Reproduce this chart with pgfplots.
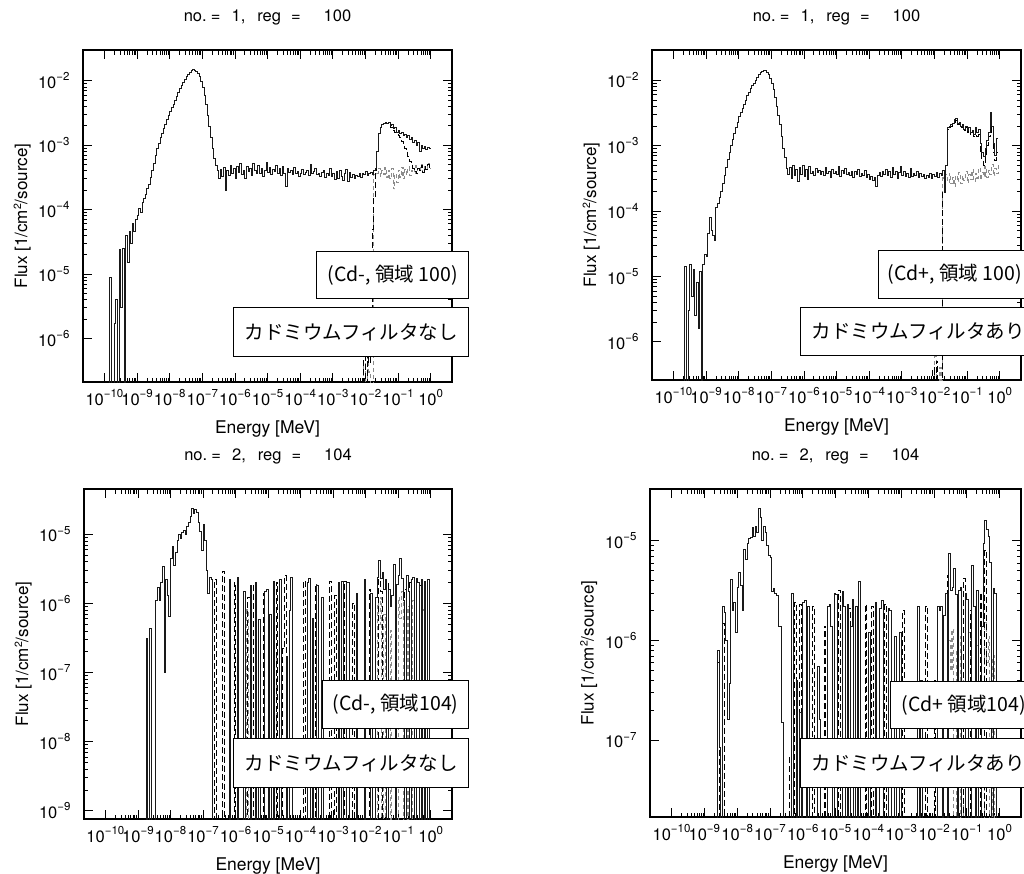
\documentclass[border=0pt]{standalone}
\usepackage{fontspec}
\setmainfont{TeX Gyre Heros}
\newfontfamily\jp{Noto Sans CJK JP}
\usepackage{pgfplots}
\usepackage{pgfplotstable}
\pgfplotsset{compat=1.18}

% tick label like 10^-3, set in the text font
\newcommand\p[1]{10\raisebox{7.5pt}{\fontsize{11.5}{11}\selectfont #1}}

% ---------- panel 1 : no.1 reg 100, Cd- ----------
\pgfplotstableread[row sep=\\]{le f\\
-10.00 1e-12\\ -9.85 9e-6\\ -9.80 1e-12\\ -9.70 1.7e-6\\ -9.65 4e-6\\ -9.60 1e-12\\ -9.55 2.4e-5\\ -9.50 3e-6\\
-9.45 2.5e-5\\ -9.40 1e-12\\ -9.35 4e-5\\ -9.30 1.5e-5\\ -9.25 4.5e-5\\ -9.20 3e-5\\ -9.15 6e-5\\ -9.10 4.5e-5\\
-9.05 7e-5\\ -9.00 8e-5\\ -8.95 1.05e-4\\ -8.90 9e-5\\ -8.85 1.3e-4\\ -8.80 1.5e-4\\ -8.75 1.7e-4\\ -8.70 2.1e-4\\
-8.65 2.5e-4\\ -8.60 3.2e-4\\ -8.55 4.0e-4\\ -8.50 5.3e-4\\ -8.45 7.0e-4\\ -8.40 8.8e-4\\ -8.35 1.05e-3\\ -8.30 1.3e-3\\
-8.25 1.5e-3\\ -8.20 1.8e-3\\ -8.15 2.1e-3\\ -8.10 2.5e-3\\ -8.05 2.9e-3\\ -8.00 3.3e-3\\ -7.95 3.8e-3\\ -7.90 4.3e-3\\
-7.85 5.0e-3\\ -7.80 5.7e-3\\ -7.75 6.5e-3\\ -7.70 7.5e-3\\ -7.65 8.5e-3\\ -7.60 9.5e-3\\ -7.55 1.05e-2\\ -7.50 1.16e-2\\
-7.45 1.27e-2\\ -7.40 1.37e-2\\ -7.35 1.45e-2\\ -7.30 1.48e-2\\ -7.25 1.46e-2\\ -7.20 1.40e-2\\ -7.15 1.30e-2\\ -7.10 1.16e-2\\
-7.05 9.8e-3\\ -7.00 7.8e-3\\ -6.95 6.0e-3\\ -6.90 4.3e-3\\ -6.85 2.9e-3\\ -6.80 1.95e-3\\ -6.75 1.3e-3\\ -6.70 8.8e-4\\
-6.65 6.3e-4\\ -6.60 4.8e-4\\ -6.55 4.0e-4\\ -6.50 3.0e-4\\ -6.45 4.2e-4\\ -6.40 3.3e-4\\ -6.35 4.5e-4\\ -6.30 2.0e-4\\
-6.25 4.0e-4\\ -6.20 3.4e-4\\ -6.15 4.8e-4\\ -6.10 3.6e-4\\ -6.05 4.4e-4\\ -6.00 3.1e-4\\ -5.95 4.6e-4\\ -5.90 3.8e-4\\
-5.85 5.2e-4\\ -5.80 3.5e-4\\ -5.75 4.1e-4\\ -5.70 3.0e-4\\ -5.65 4.7e-4\\ -5.60 3.9e-4\\ -5.55 4.3e-4\\ -5.50 3.4e-4\\
-5.45 5.3e-4\\ -5.40 4.0e-4\\ -5.35 3.6e-4\\ -5.30 4.9e-4\\ -5.25 3.7e-4\\ -5.20 4.4e-4\\ -5.15 3.3e-4\\ -5.10 4.1e-4\\
-5.05 5.4e-4\\ -5.00 3.8e-4\\ -4.95 4.5e-4\\ -4.90 3.5e-4\\ -4.85 4.2e-4\\ -4.80 3.9e-4\\ -4.75 4.8e-4\\ -4.70 3.6e-4\\
-4.65 4.3e-4\\ -4.60 3.4e-4\\ -4.55 4.6e-4\\ -4.50 3.7e-4\\ -4.45 2.3e-4\\ -4.40 4.4e-4\\ -4.35 3.8e-4\\ -4.30 4.1e-4\\
-4.25 3.5e-4\\ -4.20 4.5e-4\\ -4.15 3.6e-4\\ -4.10 3.9e-4\\ -4.05 3.3e-4\\ -4.00 3.7e-4\\ -3.95 4.2e-4\\ -3.90 3.5e-4\\
-3.85 3.8e-4\\ -3.80 4.0e-4\\ -3.75 3.4e-4\\ -3.70 5.0e-4\\ -3.65 3.6e-4\\ -3.60 3.9e-4\\ -3.55 4.3e-4\\ -3.50 3.5e-4\\
-3.45 3.7e-4\\ -3.40 3.3e-4\\ -3.35 3.8e-4\\ -3.30 4.1e-4\\ -3.25 3.2e-4\\ -3.20 3.6e-4\\ -3.15 3.4e-4\\ -3.10 4.4e-4\\
-3.05 3.3e-4\\ -3.00 3.6e-4\\ -2.95 2.9e-4\\ -2.90 3.9e-4\\ -2.85 3.1e-4\\ -2.80 4.0e-4\\ -2.75 3.3e-4\\ -2.70 2.8e-4\\
-2.65 3.7e-4\\ -2.60 4.2e-4\\ -2.55 2.7e-4\\ -2.50 3.8e-4\\ -2.45 3.2e-4\\ -2.40 3.5e-4\\ -2.35 3.0e-4\\ -2.30 3.4e-4\\
-2.25 3.3e-4\\ -2.20 3.6e-4\\ -2.15 3.2e-4\\ -2.10 3.7e-4\\ -2.05 3.5e-4\\ -2.00 3.9e-4\\ -1.95 3.4e-4\\ -1.90 3.6e-4\\
-1.85 3.8e-4\\ -1.80 3.5e-4\\ -1.75 4.0e-4\\ -1.70 4.4e-4\\ -1.65 8e-4\\ -1.60 1.5e-3\\ -1.55 1.9e-3\\ -1.50 2.1e-3\\
-1.45 2.2e-3\\ -1.40 2.25e-3\\ -1.35 2.2e-3\\ -1.30 2.25e-3\\ -1.25 2.0e-3\\ -1.20 2.1e-3\\ -1.15 1.8e-3\\ -1.10 1.9e-3\\
-1.05 1.6e-3\\ -1.00 1.7e-3\\ -0.95 1.5e-3\\ -0.90 1.6e-3\\ -0.85 1.4e-3\\ -0.80 1.45e-3\\ -0.75 1.3e-3\\ -0.70 1.4e-3\\
-0.65 1.25e-3\\ -0.60 1.3e-3\\ -0.55 1.1e-3\\ -0.50 1.2e-3\\ -0.45 1.0e-3\\ -0.40 1.1e-3\\ -0.35 8e-4\\ -0.30 1.0e-3\\
-0.25 9e-4\\ -0.20 9.5e-4\\ -0.15 8.5e-4\\ -0.10 9.2e-4\\ -0.05 9e-4\\ 0.00 9e-4\\
}\PAa
\pgfplotstableread[row sep=\\]{le f\\
-2.10 1e-12\\ -2.05 6e-7\\ -2.00 1e-12\\ -1.95 1.5e-6\\ -1.90 4e-7\\ -1.85 2.5e-6\\ -1.80 5e-5\\ -1.75 1.5e-4\\
-1.70 4e-4\\ -1.65 8e-4\\ -1.60 1.5e-3\\ -1.55 1.9e-3\\ -1.50 2.1e-3\\ -1.45 2.2e-3\\ -1.40 2.2e-3\\ -1.35 2.2e-3\\
-1.30 2.1e-3\\ -1.25 1.9e-3\\ -1.20 1.9e-3\\ -1.15 1.7e-3\\ -1.10 1.6e-3\\ -1.05 1.45e-3\\ -1.00 1.4e-3\\ -0.95 1.3e-3\\
-0.90 1.15e-3\\ -0.85 1.0e-3\\ -0.80 9e-4\\ -0.75 8e-4\\ -0.70 6.7e-4\\ -0.65 5.6e-4\\ -0.60 5e-4\\ -0.55 4.3e-4\\
-0.50 3.9e-4\\ -0.45 3.6e-4\\ -0.40 4.3e-4\\ -0.35 4.0e-4\\ -0.30 4.8e-4\\ -0.25 3.8e-4\\ -0.20 4.6e-4\\ -0.15 4.2e-4\\
-0.10 5.0e-4\\ -0.05 4.4e-4\\ 0.00 4.4e-4\\
}\PAb
\pgfplotstableread[row sep=\\]{le f\\
-2.10 1e-12\\ -2.05 4e-7\\ -2.00 1e-12\\ -1.95 1.2e-6\\ -1.90 3e-7\\ -1.85 1e-12\\ -1.75 3.5e-4\\ -1.70 4.2e-4\\
-1.65 3.6e-4\\ -1.60 4.4e-4\\ -1.55 3.3e-4\\ -1.50 4.0e-4\\ -1.45 3.5e-4\\ -1.40 4.5e-4\\ -1.35 3.2e-4\\ -1.30 4.0e-4\\
-1.25 3.0e-4\\ -1.20 4.3e-4\\ -1.15 2.1e-4\\ -1.10 3.6e-4\\ -1.05 2.6e-4\\ -1.00 4.1e-4\\ -0.95 3.2e-4\\ -0.90 4.5e-4\\
-0.85 3.0e-4\\ -0.80 4.2e-4\\ -0.75 3.5e-4\\ -0.70 4.6e-4\\ -0.65 3.4e-4\\ -0.60 4.0e-4\\ -0.55 3.7e-4\\ -0.50 4.8e-4\\
-0.45 3.6e-4\\ -0.40 4.3e-4\\ -0.35 4.0e-4\\ -0.30 5.0e-4\\ -0.25 3.8e-4\\ -0.20 4.6e-4\\ -0.15 4.2e-4\\ -0.10 5.2e-4\\
-0.05 4.4e-4\\ 0.00 4.4e-4\\
}\PAc

% ---------- panel 2 : no.1 reg 100, Cd+ ----------
\pgfplotstableread[row sep=\\]{le f\\
-10.00 1e-12\\ -9.65 1.4e-5\\ -9.60 1e-12\\ -9.55 3e-6\\ -9.50 1.5e-5\\ -9.45 5e-6\\ -9.40 1.3e-5\\ -9.35 2.5e-6\\
-9.30 8e-6\\ -9.25 1.6e-6\\ -9.20 1.2e-5\\ -9.15 1e-12\\ -9.10 1.5e-5\\ -9.05 2.2e-5\\ -9.00 2.0e-5\\ -8.95 4.5e-5\\
-8.90 8e-5\\ -8.85 5e-5\\ -8.80 4.2e-5\\ -8.75 3.6e-5\\ -8.70 1.15e-4\\ -8.65 1.3e-4\\ -8.60 1.6e-4\\ -8.55 2.0e-4\\
-8.50 2.6e-4\\ -8.45 3.5e-4\\ -8.40 4.6e-4\\ -8.35 6.2e-4\\ -8.30 8e-4\\ -8.25 1.0e-3\\ -8.20 1.25e-3\\ -8.15 1.55e-3\\
-8.10 1.9e-3\\ -8.05 2.3e-3\\ -8.00 2.8e-3\\ -7.95 3.2e-3\\ -7.90 3.7e-3\\ -7.85 4.3e-3\\ -7.80 5.0e-3\\ -7.75 5.8e-3\\
-7.70 6.6e-3\\ -7.65 7.4e-3\\ -7.60 8.2e-3\\ -7.55 9.0e-3\\ -7.50 1.0e-2\\ -7.45 1.1e-2\\ -7.40 1.22e-2\\ -7.35 1.32e-2\\
-7.30 1.38e-2\\ -7.25 1.42e-2\\ -7.20 1.40e-2\\ -7.15 1.33e-2\\ -7.10 1.22e-2\\ -7.05 1.08e-2\\ -7.00 9e-3\\ -6.95 7.2e-3\\
-6.90 5.5e-3\\ -6.85 4.0e-3\\ -6.80 2.9e-3\\ -6.75 2.1e-3\\ -6.70 1.4e-3\\ -6.65 9e-4\\ -6.60 6.5e-4\\ -6.55 4.5e-4\\
-6.50 3.6e-4\\ -6.45 4.6e-4\\ -6.40 3.2e-4\\ -6.35 4.9e-4\\ -6.30 3.5e-4\\ -6.25 4.3e-4\\ -6.20 2.8e-4\\ -6.15 4.7e-4\\
-6.10 3.6e-4\\ -6.05 5.0e-4\\ -6.00 3.4e-4\\ -5.95 4.4e-4\\ -5.90 3.0e-4\\ -5.85 4.8e-4\\ -5.80 3.7e-4\\ -5.75 4.1e-4\\
-5.70 3.5e-4\\ -5.65 4.5e-4\\ -5.60 3.9e-4\\ -5.55 4.2e-4\\ -5.50 3.6e-4\\ -5.45 4.0e-4\\ -5.40 3.5e-4\\ -5.35 4.6e-4\\
-5.30 3.8e-4\\ -5.25 4.1e-4\\ -5.20 3.3e-4\\ -5.15 4.3e-4\\ -5.10 3.7e-4\\ -5.05 4.0e-4\\ -5.00 3.6e-4\\ -4.95 4.8e-4\\
-4.90 3.4e-4\\ -4.85 4.2e-4\\ -4.80 3.7e-4\\ -4.75 4.5e-4\\ -4.70 3.6e-4\\ -4.65 3.9e-4\\ -4.60 3.5e-4\\ -4.55 4.1e-4\\
-4.50 3.3e-4\\ -4.45 4.0e-4\\ -4.40 3.6e-4\\ -4.35 4.3e-4\\ -4.30 3.4e-4\\ -4.25 3.8e-4\\ -4.20 3.5e-4\\ -4.15 4.2e-4\\
-4.10 3.3e-4\\ -4.05 3.6e-4\\ -4.00 3.0e-4\\ -3.95 3.4e-4\\ -3.90 2.9e-4\\ -3.85 3.3e-4\\ -3.80 2.4e-4\\ -3.75 3.5e-4\\
-3.70 3.9e-4\\ -3.65 3.4e-4\\ -3.60 4.1e-4\\ -3.55 3.6e-4\\ -3.50 4.4e-4\\ -3.45 3.5e-4\\ -3.40 4.0e-4\\ -3.35 3.3e-4\\
-3.30 4.6e-4\\ -3.25 3.6e-4\\ -3.20 4.0e-4\\ -3.15 3.2e-4\\ -3.10 3.9e-4\\ -3.05 4.8e-4\\ -3.00 3.5e-4\\ -2.95 4.1e-4\\
-2.90 3.4e-4\\ -2.85 3.8e-4\\ -2.80 3.3e-4\\ -2.75 4.5e-4\\ -2.70 3.4e-4\\ -2.65 3.7e-4\\ -2.60 3.5e-4\\ -2.55 4.0e-4\\
-2.50 3.3e-4\\ -2.45 3.7e-4\\ -2.40 3.4e-4\\ -2.35 3.6e-4\\ -2.30 3.2e-4\\ -2.25 3.5e-4\\ -2.20 3.3e-4\\ -2.15 3.8e-4\\
-2.10 3.1e-4\\ -2.05 3.6e-4\\ -2.00 3.4e-4\\ -1.95 3.9e-4\\ -1.90 3.3e-4\\ -1.85 3.7e-4\\ -1.80 3.5e-4\\ -1.75 4.2e-4\\
-1.70 1.9e-4\\ -1.65 5e-4\\ -1.60 1.9e-3\\ -1.55 2.0e-3\\ -1.50 2.1e-3\\ -1.45 2.2e-3\\ -1.40 2.5e-3\\ -1.35 2.6e-3\\
-1.30 2.2e-3\\ -1.25 2.3e-3\\ -1.20 2.0e-3\\ -1.15 2.1e-3\\ -1.10 1.8e-3\\ -1.05 2.0e-3\\ -1.00 1.7e-3\\ -0.95 1.9e-3\\
-0.90 1.6e-3\\ -0.85 1.7e-3\\ -0.80 1.5e-3\\ -0.75 1.9e-3\\ -0.70 1.6e-3\\ -0.65 1.8e-3\\ -0.60 1.1e-3\\ -0.55 8e-4\\
-0.50 6.8e-4\\ -0.45 9e-4\\ -0.40 1.2e-3\\ -0.35 1.6e-3\\ -0.30 3.2e-3\\ -0.25 2.0e-3\\ -0.20 1.1e-3\\ -0.15 7e-4\\
-0.10 1.3e-3\\ -0.05 1.3e-3\\
}\PBa
\pgfplotstableread[row sep=\\]{le f\\
-2.10 1e-12\\ -2.05 4e-7\\ -2.00 1e-12\\ -1.95 5e-7\\ -1.90 1e-12\\ -1.75 2e-4\\ -1.70 1.9e-4\\ -1.65 5e-4\\
-1.60 1.8e-3\\ -1.55 1.9e-3\\ -1.50 2.0e-3\\ -1.45 2.1e-3\\ -1.40 2.3e-3\\ -1.35 2.4e-3\\ -1.30 2.1e-3\\ -1.25 2.2e-3\\
-1.20 1.9e-3\\ -1.15 2.0e-3\\ -1.10 1.7e-3\\ -1.05 1.9e-3\\ -1.00 1.6e-3\\ -0.95 1.8e-3\\ -0.90 1.5e-3\\ -0.85 1.6e-3\\
-0.80 1.4e-3\\ -0.75 1.7e-3\\ -0.70 1.4e-3\\ -0.65 1.5e-3\\ -0.60 8e-4\\ -0.55 6e-4\\ -0.50 5e-4\\ -0.45 7e-4\\
-0.40 1.0e-3\\ -0.35 1.4e-3\\ -0.30 2.8e-3\\ -0.25 1.5e-3\\ -0.20 8e-4\\ -0.15 6e-4\\ -0.10 8e-4\\ -0.05 8e-4\\
}\PBb
\pgfplotstableread[row sep=\\]{le f\\
-2.05 1e-12\\ -2.00 6e-7\\ -1.95 1e-12\\ -1.85 4e-7\\ -1.80 1e-12\\ -1.75 3.2e-4\\ -1.70 2.5e-4\\ -1.65 3.6e-4\\
-1.60 2.7e-4\\ -1.55 3.8e-4\\ -1.50 2.6e-4\\ -1.45 3.3e-4\\ -1.40 2.4e-4\\ -1.35 3.5e-4\\ -1.30 2.8e-4\\ -1.25 3.9e-4\\
-1.20 2.6e-4\\ -1.15 3.4e-4\\ -1.10 2.9e-4\\ -1.05 4.0e-4\\ -1.00 2.7e-4\\ -0.95 3.6e-4\\ -0.90 3.0e-4\\ -0.85 4.3e-4\\
-0.80 2.8e-4\\ -0.75 3.7e-4\\ -0.70 3.2e-4\\ -0.65 4.6e-4\\ -0.60 3.0e-4\\ -0.55 3.9e-4\\ -0.50 3.4e-4\\ -0.45 4.8e-4\\
-0.40 3.3e-4\\ -0.35 4.2e-4\\ -0.30 3.6e-4\\ -0.25 5.2e-4\\ -0.20 3.5e-4\\ -0.15 4.5e-4\\ -0.10 3.7e-4\\ -0.05 5.5e-4\\
}\PBc

% ---------- panel 3 : no.2 reg 104, Cd- ----------
\pgfplotstableread[row sep=\\]{le f\\
-10.00 1e-12\\ -8.75 3.1e-7\\ -8.70 1e-12\\ -8.65 4.4e-7\\ -8.60 1e-12\\ -8.45 1.1e-6\\ -8.40 1.7e-6\\ -8.35 1.1e-6\\
-8.30 2.0e-6\\ -8.25 3.4e-6\\ -8.20 1.0e-7\\ -8.15 2.2e-6\\ -8.10 1.3e-6\\ -8.05 6.5e-7\\ -8.00 4.5e-6\\ -7.95 6.6e-6\\
-7.90 3.5e-6\\ -7.85 5.5e-6\\ -7.80 8.0e-6\\ -7.75 1.0e-5\\ -7.70 8.8e-6\\ -7.65 1.05e-5\\ -7.60 1.15e-5\\ -7.55 1.0e-5\\
-7.50 1.3e-5\\ -7.45 1.5e-5\\ -7.40 1.8e-5\\ -7.35 2.35e-5\\ -7.30 2.0e-5\\ -7.25 2.3e-5\\ -7.20 2.1e-5\\ -7.15 1.5e-5\\
-7.10 1.1e-5\\ -7.05 5.9e-6\\ -7.00 1.4e-5\\ -6.95 8e-6\\ -6.90 3.0e-6\\ -6.85 1.4e-6\\ -6.80 2.4e-6\\ -6.75 2.2e-6\\
-6.70 1e-12\\ -6.20 2.2e-6\\ -6.15 1e-12\\ -5.95 2.4e-6\\ -5.90 1e-12\\ -5.75 1.5e-6\\ -5.70 1e-12\\ -5.55 1.8e-6\\
-5.50 1e-12\\ -5.40 2.0e-6\\ -5.35 1e-12\\ -5.30 5.8e-7\\ -5.25 1e-12\\ -5.10 1.5e-6\\ -5.05 1.6e-6\\ -5.00 1e-12\\
-4.95 7e-7\\ -4.90 1e-12\\ -4.85 2.1e-6\\ -4.80 1e-12\\ -4.65 2.2e-6\\ -4.60 1e-12\\ -4.45 1.7e-7\\ -4.40 1e-12\\
-4.35 8e-7\\ -4.30 2.4e-6\\ -4.25 1e-12\\ -3.80 2.0e-6\\ -3.75 2.3e-6\\ -3.70 1e-12\\ -3.65 6e-7\\ -3.60 1e-12\\
-3.50 1.8e-6\\ -3.45 1e-12\\ -3.35 1.2e-6\\ -3.30 1e-12\\ -2.85 2.0e-6\\ -2.80 1e-12\\ -2.75 2.1e-6\\ -2.70 1e-12\\
-2.60 2.0e-6\\ -2.55 2.0e-6\\ -2.50 1e-12\\ -2.30 1.4e-6\\ -2.25 1e-12\\ -2.05 2.2e-6\\ -2.00 1e-12\\ -1.85 1.4e-6\\
-1.80 1e-12\\ -1.70 1.2e-6\\ -1.65 2.4e-6\\ -1.60 4.2e-6\\ -1.55 2.3e-6\\ -1.50 2.8e-6\\ -1.45 1.6e-6\\ -1.40 2.2e-6\\
-1.35 1e-12\\ -1.30 1.6e-6\\ -1.25 9e-7\\ -1.20 1.3e-6\\ -1.15 3.6e-6\\ -1.10 1e-12\\ -1.05 1.9e-6\\ -1.00 2.5e-6\\
-0.95 4.5e-6\\ -0.90 2.3e-6\\ -0.85 1.1e-6\\ -0.80 1e-12\\ -0.75 2.5e-6\\ -0.70 1.5e-6\\ -0.65 1e-12\\ -0.60 2.2e-6\\
-0.55 2.4e-6\\ -0.50 1e-12\\ -0.45 2.3e-6\\ -0.40 2.0e-6\\ -0.35 1e-12\\ -0.30 2.2e-6\\ -0.25 1e-12\\ -0.20 2.1e-6\\
-0.15 1e-12\\ -0.10 2.2e-6\\ -0.05 1e-12\\ 0.50 1e-12\\
}\PCa
\pgfplotstableread[row sep=\\]{le f\\
-10.00 1e-12\\ -8.75 3.1e-7\\ -8.70 1e-12\\ -8.65 4.4e-7\\ -8.60 1e-12\\ -6.65 2.2e-6\\ -6.60 1e-12\\ -6.40 2.9e-6\\
-6.35 1e-12\\ -6.05 2.0e-6\\ -6.00 1e-12\\ -5.65 1.2e-6\\ -5.60 1.2e-6\\ -5.55 1e-12\\ -5.45 1.9e-6\\ -5.40 1e-12\\
-5.15 1.4e-6\\ -5.10 1e-12\\ -4.75 2.0e-6\\ -4.70 1e-12\\ -4.55 2.2e-7\\ -4.50 2.5e-6\\ -4.45 1e-12\\ -3.90 2.1e-6\\
-3.85 1e-12\\ -3.55 1.9e-6\\ -3.50 1e-12\\ -3.10 2.1e-6\\ -3.05 1e-12\\ -2.95 1.3e-6\\ -2.90 1e-12\\ -2.65 2.1e-6\\
-2.60 1e-12\\ -2.40 1.0e-6\\ -2.35 1e-12\\ -1.90 1.6e-6\\ -1.85 1e-12\\ -1.60 3.0e-6\\ -1.55 1.5e-6\\ -1.50 1e-12\\
-1.35 2.0e-6\\ -1.30 1e-12\\ -1.10 1.8e-6\\ -1.05 1e-12\\ -0.80 1.6e-6\\ -0.75 1e-12\\ -0.65 2.0e-6\\ -0.60 1e-12\\
-0.35 1.8e-6\\ -0.30 1e-12\\ -0.15 1.7e-6\\ -0.10 1e-12\\ 0.50 1e-12\\
}\PCb
\pgfplotstableread[row sep=\\]{le f\\
-10.00 1e-12\\ -5.65 8e-7\\ -5.60 1e-12\\ -4.75 1.7e-7\\ -4.70 2.1e-7\\ -4.65 1e-12\\ -1.65 1.0e-6\\ -1.60 5e-7\\
-1.55 1.2e-6\\ -1.50 1e-12\\ -1.45 7e-7\\ -1.40 1e-12\\ -1.25 4e-7\\ -1.20 1e-12\\ -1.00 1.2e-6\\ -0.95 6e-7\\
-0.90 1.5e-6\\ -0.85 1e-12\\ -0.70 9e-7\\ -0.65 1e-12\\ -0.55 1.1e-6\\ -0.50 5e-7\\ -0.45 1e-12\\ -0.25 8e-7\\
-0.20 1e-12\\ 0.50 1e-12\\
}\PCc

% ---------- panel 4 : no.2 reg 104, Cd+ ----------
\pgfplotstableread[row sep=\\]{le f\\
-10.00 1e-12\\ -8.60 8e-7\\ -8.55 8.5e-8\\ -8.50 1e-12\\ -8.45 2.2e-6\\ -8.40 1.9e-6\\ -8.35 1.0e-6\\ -8.30 1.6e-7\\
-8.25 3.7e-7\\ -8.20 4.1e-6\\ -8.15 2.0e-6\\ -8.10 2.4e-6\\ -8.05 1.2e-6\\ -8.00 3.4e-6\\ -7.95 4.8e-6\\ -7.90 3.6e-6\\
-7.85 2.0e-6\\ -7.80 8.1e-6\\ -7.75 6.5e-6\\ -7.70 9.5e-6\\ -7.65 1.05e-5\\ -7.60 1.07e-5\\ -7.55 1.35e-5\\ -7.50 1.1e-5\\
-7.45 1.4e-5\\ -7.40 1.2e-5\\ -7.35 2.1e-5\\ -7.30 1.7e-5\\ -7.25 1.0e-5\\ -7.20 1.4e-5\\ -7.15 1.2e-5\\ -7.10 9e-6\\
-7.05 7.2e-6\\ -7.00 6.8e-6\\ -6.95 3.1e-6\\ -6.90 3.3e-6\\ -6.85 3.0e-6\\ -6.80 2.8e-6\\ -6.75 1.4e-6\\ -6.70 1.4e-6\\
-6.65 1.5e-7\\ -6.60 1e-12\\ -6.35 3.0e-6\\ -6.30 1e-12\\ -6.20 4e-7\\ -6.15 1e-12\\ -6.10 1.9e-7\\ -6.05 1e-12\\
-6.00 2.4e-6\\ -5.95 2.5e-6\\ -5.90 1e-12\\ -5.85 2.2e-6\\ -5.80 1e-12\\ -5.55 5.5e-7\\ -5.50 1.6e-7\\ -5.45 1e-12\\
-5.25 2.2e-6\\ -5.20 2.3e-6\\ -5.15 1.4e-6\\ -5.10 1e-12\\ -5.05 3.0e-6\\ -5.00 2.9e-6\\ -4.95 1e-12\\ -4.80 3.1e-6\\
-4.75 2.2e-6\\ -4.70 1e-12\\ -4.65 2.3e-6\\ -4.60 1e-12\\ -4.55 1.4e-6\\ -4.50 2.6e-6\\ -4.45 1e-12\\ -4.40 2.2e-6\\
-4.35 1e-12\\ -4.30 3.9e-6\\ -4.25 1e-12\\ -4.00 1.2e-6\\ -3.95 1e-12\\ -3.80 2.4e-6\\ -3.75 1e-12\\ -3.65 2.1e-6\\
-3.60 2.5e-6\\ -3.55 1e-12\\ -3.40 2.1e-6\\ -3.35 2.0e-6\\ -3.30 1e-12\\ -3.20 1.1e-6\\ -3.15 1e-12\\ -3.05 1.2e-6\\
-3.00 1e-12\\ -2.50 2.2e-6\\ -2.45 1e-12\\ -2.40 4e-7\\ -2.35 1e-12\\ -1.90 2.2e-6\\ -1.85 2.0e-6\\ -1.80 2.2e-6\\
-1.75 1e-12\\ -1.70 1.8e-6\\ -1.65 3.0e-6\\ -1.60 1e-12\\ -1.55 7.5e-6\\ -1.50 3.2e-6\\ -1.45 3.4e-6\\ -1.40 5.3e-6\\
-1.35 2.9e-6\\ -1.30 1e-12\\ -1.25 3.2e-6\\ -1.20 3.4e-6\\ -1.15 1e-12\\ -1.05 3.0e-6\\ -1.00 2.6e-6\\ -0.95 1e-12\\
-0.85 5.6e-6\\ -0.80 2.2e-6\\ -0.75 1e-12\\ -0.70 3.2e-6\\ -0.65 1e-12\\ -0.55 1.4e-6\\ -0.50 9.5e-6\\ -0.45 1.6e-5\\
-0.40 1.3e-5\\ -0.35 1.1e-5\\ -0.30 6e-6\\ -0.25 1e-12\\ -0.20 3.3e-6\\ -0.15 3.0e-6\\ -0.10 1e-12\\ 0.50 1e-12\\
}\PDa
\pgfplotstableread[row sep=\\]{le f\\
-10.00 1e-12\\ -8.60 6e-7\\ -8.55 1e-12\\ -8.45 1.5e-6\\ -8.40 1e-12\\ -6.40 6.8e-8\\ -6.35 1e-12\\ -6.25 2.4e-6\\
-6.20 1e-12\\ -6.10 2.3e-6\\ -6.05 1e-12\\ -5.70 2.2e-6\\ -5.65 1e-12\\ -5.35 1.4e-6\\ -5.30 1e-12\\ -4.90 3.2e-6\\
-4.85 1e-12\\ -4.60 2.1e-6\\ -4.55 1e-12\\ -4.10 2.3e-6\\ -4.05 1e-12\\ -3.90 2.2e-6\\ -3.85 1e-12\\ -3.50 2.3e-6\\
-3.45 1e-12\\ -2.95 2.0e-6\\ -2.90 1e-12\\ -2.25 2.2e-6\\ -2.20 1e-12\\ -2.00 4e-7\\ -1.95 1e-12\\ -1.60 4.5e-6\\
-1.55 1e-12\\ -1.30 2.5e-6\\ -1.25 1e-12\\ -1.10 4.2e-6\\ -1.05 1e-12\\ -0.90 2.0e-6\\ -0.85 1e-12\\ -0.60 3.0e-6\\
-0.55 1e-12\\ -0.45 8e-6\\ -0.40 1e-12\\ 0.50 1e-12\\
}\PDb
\pgfplotstableread[row sep=\\]{le f\\
-10.00 1e-12\\ -1.55 1.0e-6\\ -1.50 5e-7\\ -1.45 1.3e-6\\ -1.40 1e-12\\ -1.30 8e-7\\ -1.25 1e-12\\ -1.20 1.1e-6\\
-1.15 4e-7\\ -1.10 1e-12\\ -0.95 1.2e-6\\ -0.90 6e-7\\ -0.85 1e-12\\ -0.70 9e-7\\ -0.65 1e-12\\ -0.45 1.5e-6\\
-0.40 6e-7\\ -0.35 1.1e-6\\ -0.30 1e-12\\ -0.20 7e-7\\ -0.15 1e-12\\ 0.50 1e-12\\
}\PDc

\pgfplotsset{
  every axis/.append style={
    scale only axis, anchor=north west,
    xmin=2.2e-11, xmax=4.5,
    axis line style={line width=1.2pt},
    tick style={line width=0.7pt, black},
    major tick length=9pt, minor tick length=4.5pt,
    xtick={1e-10,1e-9,1e-8,1e-7,1e-6,1e-5,1e-4,1e-3,1e-2,1e-1,1},
    xticklabels={\p{−10},\p{−9},\p{−8},\p{−7},\p{−6},\p{−5},\p{−4},\p{−3},\p{−2},\p{−1},\p{0}},
    tick label style={font=\fontsize{16.5}{17}\selectfont},
    xticklabel style={yshift=-4pt},
    yticklabel style={xshift=-10pt},
    xlabel={Energy [MeV]},
    ylabel={Flux [1/cm\raisebox{6pt}{\fontsize{10.5}{10}\selectfont 2}/source]},
    label style={font=\fontsize{17}{18}\selectfont},
    xlabel style={font=\fontsize{17.5}{18}\selectfont, at={(axis description cs:0.5,0)}, anchor=base, yshift=-51pt},
    ylabel style={font=\fontsize{17}{18}\selectfont, at={(axis description cs:-0.165,0.5)}, anchor=center},
    title style={font=\fontsize{16.5}{18}\selectfont, at={(axis description cs:0.5,1)}, anchor=base, yshift=23pt},
  },
  s1/.style={const plot, black!90, line width=0.8pt},
  s2/.style={const plot, black, line width=0.8pt, dash pattern=on 6pt off 3pt},
  s3/.style={const plot, black!45, line width=1.1pt, dash pattern=on 4pt off 3pt},
}
\tikzset{labbox/.style={draw, line width=1.3pt, fill=white, anchor=north west, inner sep=0pt,
    font=\jp\fontsize{19.5}{20}\selectfont}}
\newcommand\ttl[2]{no.\hspace{4.3pt}=\hspace{11pt}#1,\hspace{12pt}reg\hspace{10pt}=\hspace{23pt}#2}

\begin{document}
\begin{tikzpicture}
\useasboundingbox (0,0) rectangle (1024pt,-873pt);
\clip (0,0) rectangle (1024pt,-873pt);

% top left
\begin{loglogaxis}[at={(83pt,-50pt)}, width=369pt, height=332pt,
  ymin=2.1e-7, ymax=3.0e-2, title={\ttl{1}{100}},
  ytick={1e-6,1e-5,1e-4,1e-3,1e-2},
  yticklabels={\p{−6},\p{−5},\p{−4},\p{−3},\p{−2}}]
\addplot[s3] table[x expr={10^(\thisrow{le})}, y=f] {\PAc};
\addplot[s2] table[x expr={10^(\thisrow{le})}, y=f] {\PAb};
\addplot[s1] table[x expr={10^(\thisrow{le})}, y=f] {\PAa};
\end{loglogaxis}

% top right
\begin{loglogaxis}[at={(652pt,-50pt)}, width=369pt, height=330pt,
  ymin=2.6e-7, ymax=2.9e-2, title={\ttl{1}{100}},
  ytick={1e-6,1e-5,1e-4,1e-3,1e-2},
  yticklabels={\p{−6},\p{−5},\p{−4},\p{−3},\p{−2}}]
\addplot[s3] table[x expr={10^(\thisrow{le})}, y=f] {\PBc};
\addplot[s2] table[x expr={10^(\thisrow{le})}, y=f] {\PBb};
\addplot[s1] table[x expr={10^(\thisrow{le})}, y=f] {\PBa};
\end{loglogaxis}

% bottom left
\begin{loglogaxis}[at={(84pt,-489pt)}, width=368pt, height=330pt,
  ymin=7.6e-10, ymax=4.5e-5, title={\ttl{2}{104}},
  ytick={1e-9,1e-8,1e-7,1e-6,1e-5},
  yticklabels={\p{−9},\p{−8},\p{−7},\p{−6},\p{−5}}]
\addplot[s3] table[x expr={10^(\thisrow{le})}, y=f] {\PCc};
\addplot[s2] table[x expr={10^(\thisrow{le})}, y=f] {\PCb};
\addplot[s1] table[x expr={10^(\thisrow{le})}, y=f] {\PCa};
\end{loglogaxis}

% bottom right
\begin{loglogaxis}[at={(650pt,-489pt)}, width=371pt, height=328pt,
  ymin=1.7e-8, ymax=3.3e-5, title={\ttl{2}{104}},
  ytick={1e-7,1e-6,1e-5},
  yticklabels={\p{−7},\p{−6},\p{−5}}]
\addplot[s3] table[x expr={10^(\thisrow{le})}, y=f] {\PDc};
\addplot[s2] table[x expr={10^(\thisrow{le})}, y=f] {\PDb};
\addplot[s1] table[x expr={10^(\thisrow{le})}, y=f] {\PDa};
\end{loglogaxis}

% annotation boxes
\node[labbox, minimum width=152pt, minimum height=47pt] at (316pt,-251pt) {(Cd-, 領域 100)};
\node[labbox, minimum width=235pt, minimum height=49pt] at (233pt,-307pt) {カドミウムフィルタなし};
\node[labbox, minimum width=152pt, minimum height=48pt] at (878pt,-250pt) {(Cd+, 領域 100)};
\node[labbox, minimum width=235pt, minimum height=48pt] at (800pt,-307pt) {カドミウムフィルタあり};
\node[labbox, minimum width=146pt, minimum height=48pt] at (322pt,-680pt) {(Cd-, 領域104)};
\node[labbox, minimum width=235pt, minimum height=49pt] at (233pt,-738pt) {カドミウムフィルタなし};
\node[labbox, minimum width=146pt, minimum height=47pt] at (890pt,-681pt) {(Cd+ 領域104)};
\node[labbox, minimum width=235pt, minimum height=49pt] at (800pt,-738pt) {カドミウムフィルタあり};
\end{tikzpicture}
\end{document}
